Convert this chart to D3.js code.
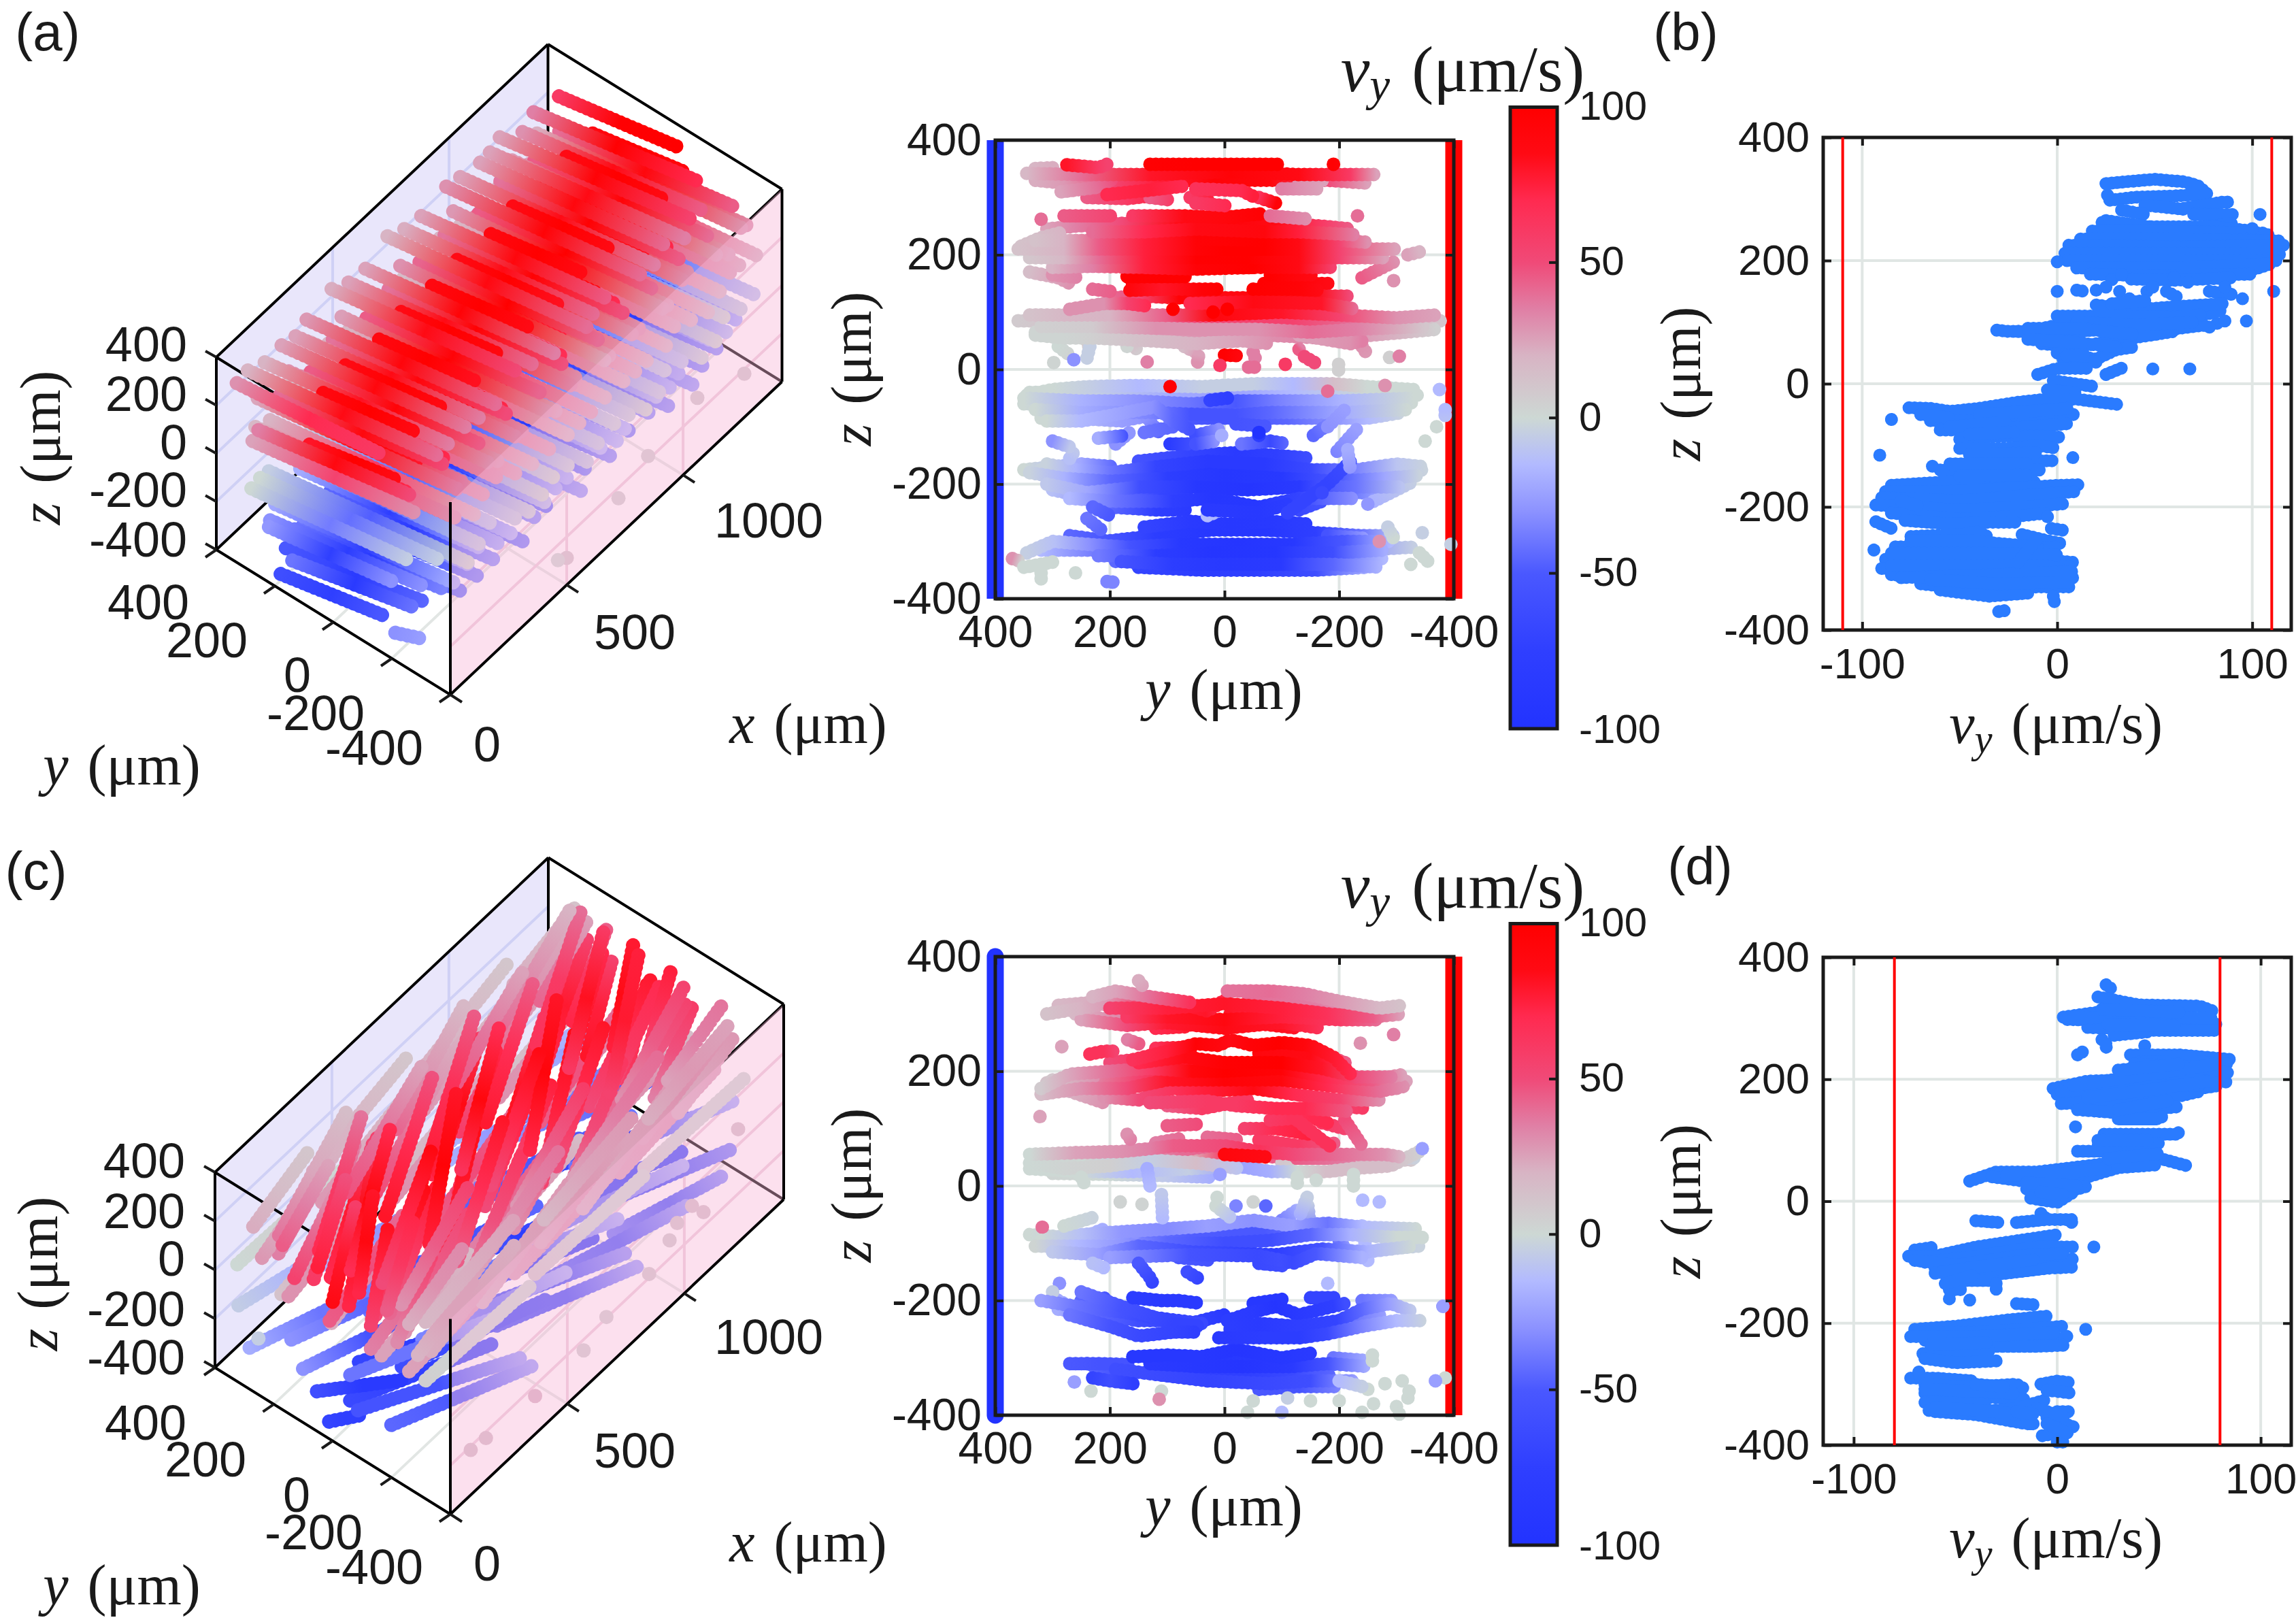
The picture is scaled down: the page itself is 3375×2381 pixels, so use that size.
<!DOCTYPE html>
<html lang="en">
<head>
<meta charset="UTF-8">
<title>Velocity profiles</title>
<script src="https://d3js.org/d3.v7.min.js"></script>
<style>
  html, body { margin: 0; background: #fff; }
  text { font-family: "Liberation Sans", Arial, sans-serif; fill: #1a1a1a; }
  .math { font-family: "Liberation Serif", serif; }
</style>
</head>
<body>
<svg id="fig" width="3375" height="2381"></svg>
<script>
// colour map
const vStops = [-100, -75, -50, -30, -15, 0, 20, 35, 50, 70, 85, 100];
const vColors = ["#2233ff", "#2f3fff", "#4a58ff", "#8c92ff", "#b2baff", "#cdd8d4", "#d8b4c4", "#e07fa5", "#f04a78", "#ff2a50", "#ff0a14", "#ff0000"];
const cbTicks = [-100, -50, 0, 50, 100];
const zTicks = [-400, -200, 0, 200, 400];
const yTicks = [400, 200, 0, -200, -400];
const xTicks3d = [0, 500, 1000];
const vTicks = [-100, 0, 100];

// y-z panel (a): each row is y, z, vy triples along a streak
const rowsAFill = [
  [290,-305,-18,210,-300,-50,120,-290,-80,20,-280,-92,-70,-280,-92,-160,-285,-75,-240,-290,-40,-300,-290,-10],
  [320,-315,-15,240,-315,-35,150,-315,-70,50,-315,-95,-50,-312,-95,-150,-312,-75,-240,-315,-30,-330,-310,-5],
  [190,-335,-45,100,-335,-75,10,-330,-90,-80,-332,-90,-180,-330,-50,-280,-330,-15],
  [150,-345,-70,40,-350,-80,-50,-350,-78,-160,-350,-60,-250,-345,-18],
  [350,-175,0,300,-170,-10,250,-165,-22,190,-170,-45],[150,-160,-55,60,-150,-70,-20,-145,-85,-90,-150,-75,-150,-155,-60],[300,-210,-12,230,-225,-30],
  [320,-175,-3,230,-190,-32,130,-185,-70,30,-175,-90,-80,-178,-88,-180,-185,-65,-260,-180,-28,-350,-175,-3],
  [300,-190,-10,210,-205,-35,110,-215,-70,0,-195,-92,-100,-198,-90,-190,-215,-55,-290,-215,-15],
  [200,-240,-45,120,-245,-75,60,-245,-85],[-130,-245,-65,-170,-230,-55],[-260,-230,-18,-330,-195,-5],
  [350,-60,0,270,-62,-10,170,-62,-28,90,-65,-35,0,-62,-50,-90,-62,-42,-200,-62,-20,-330,-58,0],
  [340,-40,0,220,-40,-5,100,-40,-20,0,-40,-25,-120,-40,-15,-250,-42,0,-340,-45,0],
  [320,-85,0,260,-85,-12,180,-90,-25,130,-80,-30],[70,-85,-50,-10,-85,-55,-110,-85,-45,-190,-85,-30,-250,-85,-15,-310,-75,-3],
  [135,-85,-30,110,-115,-45],[50,-115,-60,10,-105,-30],[-155,-115,-45,-195,-85,-30],[-230,-105,-25,-190,-150,-35],[190,-130,-30,160,-105,-28],
  [360,85,8,280,85,12,190,85,25,80,80,50,-20,85,55,-120,85,55,-220,85,40,-320,82,20,-380,85,10],
  [330,65,3,240,65,8,150,62,22,30,60,30,-70,60,30,-170,55,35,-260,60,25,-370,70,5],
  [290,40,0,270,25,3],[240,50,10,235,35,5],[160,45,15,150,30,8],[-50,30,35,-55,15,35],[-240,40,30,-250,25,28],[70,40,15,50,30,25],[-130,35,45,-135,40,35],
  [310,245,25,260,250,35,180,255,50,80,255,85,0,258,95,-90,255,85,-170,250,60,-220,245,45],[355,215,12,320,230,15,280,240,20],[340,170,15,290,160,25,270,150,30],
  [-180,150,85,-130,150,95,-60,150,100],[100,150,90,170,150,90],[-240,160,45,-300,190,30],[-320,200,25,-340,205,20],
  [200,125,40,150,128,50,80,125,95,20,125,85,-60,125,90,-160,128,85,-220,128,50],
  [330,330,22,280,325,28,200,325,50,120,328,75,20,330,95,-80,330,90,-180,330,50,-250,325,25],[240,300,45,170,298,60,110,305,75],[60,300,60,20,295,75],[-130,325,30,-175,330,25],[300,352,22,340,350,18],[-60,300,65,-90,290,95]
];
const rowsA = [
  [270,-290,-45,200,-300,-55],[-180,-290,-55,-250,-295,-25],
  [345,-320,-5,300,-300,-12,240,-305,-30,170,-310,-55,80,-305,-88,-20,-305,-95,-120,-305,-88,-210,-300,-50,-290,-300,-15],
  [220,-325,-38,120,-325,-80,20,-320,-95,-90,-320,-92,-190,-320,-60,-280,-315,-20],
  [180,-335,-55,90,-340,-80,0,-340,-88,-100,-340,-85,-190,-340,-45,-270,-345,-18],
  [140,-275,-70,60,-265,-85,-10,-270,-90,-80,-265,-88,-150,-270,-78],
  [240,-260,-40,215,-280,-45],[30,-255,-15,-5,-240,-20],
  [-285,-275,-5,-295,-295,0],[-270,-300,30],
  [370,-330,30,355,-335,5],[350,-345,0,320,-340,0,295,-335,0],[320,-355,0,320,-370,0],[260,-355,0],[205,-370,-35,185,-372,-35],
  [-340,-320,0,-360,-340,0],[-325,-340,0],[-395,-305,-5],[-345,-285,-5],
  [310,-165,-3,260,-175,-18,200,-180,-40,120,-170,-70,30,-160,-85,-70,-165,-85,-150,-175,-65,-230,-175,-35,-300,-165,-10,-350,-170,-3],
  [340,-180,-3,280,-190,-18,200,-195,-45,100,-190,-78,0,-185,-92,-100,-190,-88,-200,-195,-50,-280,-190,-22,-340,-185,-3],
  [310,-200,-8,240,-215,-22,150,-205,-60,50,-205,-90,-40,-210,-95,-130,-205,-85,-230,-205,-40,-310,-205,-10],
  [270,-225,-15,190,-230,-40,90,-230,-75,20,-225,-92,-60,-240,-90,-130,-225,-70,-230,-225,-30],
  [30,-245,-85,-60,-250,-88,-110,-235,-80],[230,-240,-45,200,-255,-50],[-250,-235,-28],
  [-110,-250,-70,-180,-200,-70,-220,-160,-60],[-170,-215,-65],
  [270,-155,-12,260,-140,-8],[95,-130,-80,60,-130,-60],[-30,-130,-40,-80,-125,-65,-110,-130,-45],
  [300,-125,-30,270,-135,-8],[220,-120,-20,170,-115,-55],[140,-110,-40,90,-100,-45],[50,-130,-55,15,-125,-30],[-60,-115,-80],
  [-215,-140,-20,-220,-180,-28],[-350,-125,0],[-370,-100,0],[-385,-70,-15,-385,-85,-12],[-375,-35,-15],
  [345,-45,0,300,-35,0,240,-30,-5,150,-28,-15,40,-30,-5,-50,-25,-5,-120,-25,-15,-190,-25,15,-250,-30,0,-330,-35,0],
  [350,-50,0,250,-55,-18,150,-55,-30,60,-60,-40,-20,-55,-50,-100,-55,-35,-200,-55,-18,-330,-50,0],
  [330,-70,0,250,-75,-20,130,-75,-35,60,-78,-55,-20,-80,-55,-80,-75,-45,-210,-75,-20,-320,-70,0],
  [310,-90,0,250,-90,-15,120,-65,-30,90,-90,-45,60,-105,-55],[-180,-100,-30,-210,-70,-25],[-20,-95,-55,-80,-100,-50],
  [-5,-50,-75,35,-55,-70],[5,-115,-20],[-60,-110,-100],
  [298,12,2],[263,17,-30],[170,40,2],[135,13,35],[47,13,30,45,25,25],[0,25,98,-25,24,90],[8,7,60],[-42,4,40,-60,4,40],[-106,9,60],[-157,12,50,-135,25,50],
  [-199,9,5,-199,-10,5],[-288,21,5],[-305,23,35],[-280,-28,30],[-180,-38,40],[95,-30,98],[240,20,-5,235,40,-5],
  [330,60,2,280,55,2,230,55,5,130,50,15,50,45,20,-30,50,25,-80,45,30],[-130,60,25,-220,45,30,-240,50,35],
  [320,75,5,230,75,8,120,72,30,50,70,30,-60,70,30,-150,65,40,-230,70,35,-350,75,10],
  [340,95,12,280,95,18,200,95,20,100,95,45,20,95,90,-100,100,80,-200,95,55,-300,90,30,-370,95,25],
  [270,105,30,210,115,30,170,115,55,130,110,70],[60,115,70,-50,118,85,-170,115,80,-230,105,40],[90,105,100],[-5,105,100],[20,100,100],
  [230,140,40,190,135,45],[165,138,90,110,140,80,40,140,95,5,140,100],[-50,140,100,-130,140,95,-170,138,85],
  [300,165,30,250,160,35],[170,162,98,60,162,100],[-80,165,100,-160,165,85],[-295,155,30],
  [300,178,20,230,180,35,140,178,75,50,175,95,-50,178,100,-130,178,85,-190,178,55],
  [340,195,10,280,195,18,220,195,40,140,195,75,50,195,98,-40,195,100,-130,195,85,-200,195,55,-280,195,25],
  [360,210,12,280,210,20,220,210,45,140,210,75,50,210,95,0,210,100,-70,210,100,-130,210,85,-200,210,55,-300,210,25],
  [330,225,12,280,225,20,220,225,45,140,228,75,50,228,95,-70,225,100,-130,225,85,-200,225,55,-250,222,30],
  [230,240,40,140,240,70,50,245,85,-70,240,90,-130,240,75,-230,235,35],
  [280,268,45,190,268,55],[160,268,60,70,268,85,5,265,90,-70,272,98],[-80,268,40,-150,262,30],[-232,268,40],[320,262,40],
  [50,290,60,-10,285,70],[130,300,45,90,295,60],
  [285,310,25,220,318,40,190,335,50],[205,305,70,130,313,75,70,320,70],[50,315,65,-30,312,70,-50,302,75],[-100,315,35,-170,315,25],
  [345,342,18,250,340,40,130,340,80,-10,345,95,-130,340,85,-220,340,60,-265,340,25],
  [275,357,80,220,352,60,205,358,55],[130,358,98,50,358,100,-20,358,100,-100,358,100],[-190,358,98,-200,358,95]
];

// y-z panel (c)
const rowsCFill = [
  [60,-330,-75,-40,-335,-75,-120,-330,-65,-190,-330,-45],[240,-310,-45,200,-325,-50,170,-335,-65],[100,-300,-85,0,-305,-90,-110,-310,-88],[-60,-355,-50,-130,-350,-55,-200,-350,-35],[-190,-300,-40,-250,-305,-20],
  [290,-215,-20,220,-225,-45,150,-235,-60,80,-235,-70],[250,-200,-45,200,-195,-55],[-50,-245,-85,-100,-255,-85,-160,-250,-70],[-50,-205,-90,-100,-198,-90],[60,-240,-70,0,-225,-85],[-150,-195,-70,-200,-195,-70],[-230,-230,-40,-280,-225,-25],[-240,-200,-40,-300,-200,-25],
  [340,-85,0,270,-90,-5,200,-95,-22,130,-90,-40,60,-90,-48,-10,-85,-50,-70,-80,-50,-140,-75,-40,-230,-85,-18,-330,-85,0],[300,-105,-3,230,-100,-22],[260,-95,-15,210,-75,-20],[-200,-95,-40,-220,-120,-20,-280,-110,-8,-340,-105,-3],[80,-125,-50,20,-130,-55],[-60,-135,-65,-110,-140,-60],[170,-115,-35,150,-95,-30],[-240,-70,-15,-250,-130,-15],[-100,-60,-35,-130,-40,-20],[-150,-75,-35,-145,-30,-5],
  [-60,80,60,-130,70,60,-200,75,45],[30,85,40,-30,80,45],[120,75,35,80,82,40],[330,50,0,280,48,10,220,50,25,150,50,25,80,55,40,-30,55,45,-120,48,45,-220,48,35,-330,45,8],[320,35,0,240,40,3,160,40,-5,70,40,5,0,50,60],[-240,40,20,-340,50,-3],[300,22,2,200,20,0,100,18,-8,20,15,-20],[250,35,0,240,20,0],[-100,40,10,-130,15,0],
  [-210,215,45,-170,230,75],[200,215,50,120,225,70,60,235,85],[120,240,65,60,242,85],[-60,232,90,-150,225,85,-200,205,70],[310,180,12,240,185,30,150,190,55,70,205,80,-20,205,95,-110,195,95,-200,180,55,-290,180,30],[300,185,10,220,190,30],[-230,165,40,-300,170,30,-320,185,25],[270,165,20,210,145,30],[100,140,45,40,135,60,-40,150,60],[-190,140,55,-250,135,60],[-170,110,60,-210,100,55],
  [290,315,18,230,320,22,170,310,35,100,300,70,30,295,80],[-10,300,80,-90,320,65,-170,310,45,-240,305,35],[-40,335,40,-170,325,35,-240,310,25],[260,300,18,200,290,30,150,305,35],[-60,305,80,-130,300,80],[30,280,75,-60,283,85,-130,275,80],[120,275,70,60,278,78]
];
const rowsC = [
  [270,-310,-50,220,-310,-55,160,-312,-55],
  [190,-320,-60,110,-330,-65,30,-340,-70,-80,-345,-65,-150,-340,-60,-230,-340,-25],
  [130,-310,-85,50,-315,-90,-30,-315,-95,-120,-315,-85,-180,-310,-55,-250,-315,-20],
  [160,-298,-90,100,-295,-90,40,-298,-90,-20,-285,-95,-100,-300,-90,-150,-292,-85],
  [230,-335,-70,200,-340,-60,160,-345,-75],[262,-342,-25],[233,-358,0],[110,-358,0],[114,-372,30],
  [-250,-355,0],[-280,-345,0],[-310,-340,0],[-320,-370,0],[-260,-380,0],[-200,-375,0],[-240,-395,0],[-300,-385,0],[-322,-358,0],[-50,-375,0],[-40,-395,0],[-110,-370,-5],[-150,-375,0],[-100,-395,-15],[-305,-398,0],[-385,-335,0],[-368,-340,-25],[-200,-340,-15,-240,-350,-5],[-258,-295,0,-258,-310,0],
  [300,-195,-25,270,-210,-15],[288,-170,-30],[300,-185,-5],
  [320,-200,-25,260,-210,-40,180,-220,-55,120,-230,-70,40,-240,-65],
  [250,-185,-40,180,-210,-55,90,-240,-70,40,-245,-70],
  [160,-195,-80,110,-200,-85,80,-200,-85,40,-205,-85],
  [270,-225,-40,200,-245,-55,150,-262,-65,90,-255,-70,50,-255,-75],
  [-5,-235,-80,-50,-220,-85,-90,-210,-95,-130,-225,-85,-190,-210,-75,-210,-205,-60],
  [-10,-250,-80,-60,-240,-85,-130,-245,-75,-200,-235,-70,-240,-215,-45,-290,-205,-25,-330,-220,-8],
  [10,-265,-85,-70,-265,-80,-130,-265,-80,-180,-258,-65,-240,-245,-35,-300,-235,-15,-350,-235,-3],
  [-381,-210,-25,-375,-218,-25],
  [318,-72,40],
  [320,-95,0,250,-85,-12,180,-80,-28,100,-75,-32,30,-70,-25,-50,-60,-30,-120,-70,-25,-180,-65,-40,-240,-72,-15,-340,-75,0],
  [330,-105,2,260,-105,-15,170,-105,-30,100,-100,-45,0,-100,-60,-80,-95,-60,-150,-85,-45,-220,-85,-18,-300,-90,0,-345,-90,0],
  [300,-115,-8,220,-120,-25,150,-105,-45,60,-115,-60,-20,-118,-70,-90,-120,-75,-170,-110,-55,-250,-115,-18,-330,-105,0],
  [200,-125,-25,60,-120,-55,-60,-122,-65,-100,-130,-60,-120,-135,-65,-160,-118,-50,-240,-125,-18],
  [150,-135,-50,130,-160,-65,125,-170,-70],[65,-150,-60,40,-165,-70],[230,-135,-12,205,-145,-15],[-180,-170,-15],
  [-241,-25,-15],[-270,-28,-15],[182,-28,3],[144,-32,3],[110,-15,-8,108,-60,-15],[13,-20,0],[-50,-28,3],[-20,-35,-35],[-72,-35,-45],[-144,-20,-5,-130,-55,-20],[15,-35,0,-10,-55,-10],
  [280,-70,0,230,-55,-3],
  [340,30,0,250,25,0,160,25,-15,60,30,-5,-20,35,-25,-80,25,-20,-130,25,0,-180,25,15,-220,30,15,-290,35,15,-340,60,5],
  [340,40,0,280,30,3,200,35,5,130,45,-5,50,40,15,-30,30,-10],
  [135,30,-20,130,0,-15],[8,20,-25],[-127,15,0,-127,0,0],[-160,10,0],[-225,20,0,-225,-5,0],[250,15,0,245,5,0],
  [340,55,0,260,58,25,180,60,30,130,65,35,90,70,45,0,70,50,-60,60,65,-120,55,50,-200,55,40,-280,55,30,-310,50,20],
  [170,90,30,160,75,35],[0,55,90,-80,50,85],[-345,65,-25],
  [100,105,45,40,108,50],[-35,100,55,-90,100,70,-150,90,75],[-80,115,60,-150,120,70,-180,110,70],[-120,120,65,-170,80,65,-190,65,65],[-210,115,50,-240,70,40],
  [322,121,25],[210,155,30,150,150,50,90,170,65,40,165,75,-50,170,85,-120,160,70,-200,150,55,-275,150,30],
  [130,145,50,30,148,60,-20,140,60,-90,135,70,-140,135,70,-220,130,45],
  [320,160,15,250,170,30,170,170,50,100,185,80,0,185,95,-100,185,90,-180,175,70,-270,165,40,-320,175,30],
  [320,170,8,270,195,25,200,200,40,130,205,60,60,200,90,0,200,100,-100,205,95,-180,190,70,-260,185,45,-315,195,25],
  [150,215,70,70,225,85,0,215,98,-100,215,100,-170,205,80,-230,190,50,-300,190,35],
  [235,230,65,210,235,65,190,235,55],[160,220,65,100,235,75,50,248,95,10,245,90,-10,255,85,-50,245,95,-100,250,100,-150,245,90,-190,225,80,-225,190,70],
  [284,243,25,280,235,25],[-237,249,30],[-295,264,35],[169,255,35,150,248,45],
  [250,290,25,170,280,50,100,285,78,0,275,85,-100,285,80,-170,275,65],
  [170,295,60,100,295,80,0,290,88,-100,295,75,-200,290,60,-270,290,40],
  [310,300,12,250,310,20,200,320,28,140,325,55,80,320,75,30,305,80,-10,330,65],
  [200,310,55,100,310,75,0,318,80,-100,310,75,-180,300,65,-260,295,45,-310,300,25],
  [230,330,20,190,340,25,130,330,40,60,320,65],
  [-5,340,38,-80,340,40,-140,335,35,-200,322,28,-270,310,18,-310,315,12],[150,358,22,140,345,25]
];

// vy-z panel (b): vy, z pairs along a streak
const rowsB = [
  [25,325,35,328,50,332,65,328,72,322,77,308,60,305,40,303,27,298,25,312],
  [45,290,60,285,66,283],[65,285,85,295,88,295],[33,282,45,275],[70,275,90,275],[25,265,40,258,60,250,90,260],
  [23,262,45,255,80,255,100,248],[18,248,50,248,105,245,110,240],[104,275],[100,252],
  [12,235,60,235,114,232],[6,225,60,222,116,225],[4,212,60,212,116,210],[5,200,60,200,114,200],[10,188,60,188,110,195,100,185],[17,178,50,175,100,178],[38,170,60,168,90,172],
  [0,198],[0,150],[10,152,14,150],[20,152],[32,150],[28,169],[33,177],[25,157],[37,138],[46,150],[49,157],[56,150,62,140],[60,173],[67,165],[78,150,90,145],[86,157],[95,138],[97,102,99,102],[82,98],[86,102],[111,150],
  [-31,87,-25,85,-15,85,0,95,25,105,50,100,80,115,85,120],[-20,85,0,80,25,90,50,85,75,95,80,90],[-8,65,10,60,30,70,50,80,60,85],[0,50,20,40,30,55,40,60],[20,128,40,120,60,125,85,130],[28,130,45,135],
  [3,40,20,35],[49,24],[68,24],[-10,15,0,25,15,25],[25,15,35,28],[-2,5,20,-5],[-5,-10,10,-15],
  [-76,-39,-65,-40,-55,-45,-40,-40,-20,-30,-5,-25,10,-25,32,-34],[-85,-58,-84,-62],[-65,-60,-45,-60,-20,-55,0,-50,10,-50],[-60,-75,-40,-75,-15,-70,5,-65],[-50,-90,-30,-85,-10,-85,3,-87],[-91,-116],
  [-50,-105,-25,-105,-10,-100,0,-105],[-45,-125,-20,-125,0,-125],[8,-120],[-60,-140,-30,-140,-8,-140],[-64,-134],
  [-85,-165,-60,-160,-30,-155,-10,-160],[-88,-175,-55,-175,-25,-170,0,-165,12,-164],[-90,-185,-50,-190,-10,-180,10,-175],[-93,-197,-50,-205,-15,-200,3,-195],[-85,-210,-50,-220,-20,-215,-5,-210],[-78,-222,-55,-228,-35,-225,-20,-225],[-5,-216],[-3,-235,3,-238],[-93,-224,-85,-235],
  [-75,-248,-50,-245,-40,-240,-35,-250],[-18,-245,-5,-255,3,-260],[-83,-265,-50,-265,-15,-268,0,-265],[-88,-285,-50,-285,-10,-285,8,-290],[-94,-270,-93,-278],
  [-90,-300,-50,-305,0,-300,8,-295],[-85,-310,-50,-320,-20,-318,10,-315],[-70,-325,-40,-335,-10,-330,8,-330],[-60,-335,-35,-345,-15,-340],[-30,-370,-26,-368],[-2,-345,-1,-362],
  [0,110,30,110,60,108,75,112],[10,100,40,95,70,100],[-15,90,10,90,40,80],[-15,72,5,68,30,60],[5,45,15,48],[-40,-50,-15,-45,5,-40],[-70,-50,-55,-55],[-55,-70,-25,-62],[-45,-82,-20,-78],[-45,-115,-10,-112],[-55,-130,-15,-130],[-50,-150,-15,-148],[-80,-190,-70,-200],[-75,-255,-45,-255,-10,-265],[-85,-275,-40,-275,0,-278],[-85,-295,-50,-295,-5,-295,5,-305],[-80,-315,-30,-310,8,-305],[-65,-318,-30,-325,8,-322],[-20,-290,-10,-250]
];

// vy-z panel (d)
const rowsD = [
  [24,355,28,345],[20,335,40,322,70,320,78,310],[3,302,20,310,50,305,78,295],[5,298,40,295,80,290],[15,285,50,280,78,280],[28,272,45,278],
  [22,265,25,255,22,247],[10,240,14,248],[43,255],
  [36,240,60,240,87,232],[40,228,65,230,85,225],[-2,185,15,197,40,200,80,205,83,195],[0,175,50,175,80,190],[2,160,50,165,70,180],[10,150,30,145,60,155],[30,135,50,135,52,140],[9,122],
  [23,110,40,110,60,110,59,115],[20,90,40,92,50,95],[10,82,30,82],[-43,33,-30,48,-10,48,20,60,45,75,65,57],[-32,40,-10,30,10,35,30,55,50,60],[-15,20,0,10,15,25],[-13,5,0,-2,8,15],
  [-8,-20,-5,-30],[-40,-32,-28,-35],[-20,-35,-5,-30,8,-30,6,-40],
  [-70,-80,-60,-75],[-73,-90,-60,-90,-40,-75,-20,-65,0,-55],[-65,-100,-40,-90,-10,-75,10,-75],[-60,-110,-30,-105,0,-95,10,-95],[-55,-120,-30,-120,-5,-110,8,-108],[-50,-130,-30,-130],[18,-75],[-30,-135,-30,-145],[-53,-145,-45,-145],[-53,-160],[-43,-162],[-20,-168,-10,-170],
  [-70,-210,-50,-205,-25,-195,-10,-190,-3,-188],[-68,-215,-40,-215,-15,-210,3,-205],[-65,-228,-40,-228,-15,-225,4,-225,5,-220],[-62,-240,-40,-238,-10,-238,5,-236],[-66,-250,-45,-250,-32,-245],[-65,-258,-50,-265,-30,-262],[14,-210],
  [-72,-290,-60,-290,-40,-295],[-68,-280,-67,-290],[-65,-300,-45,-305,-20,-300,-15,-310],[-65,-315,-40,-320,-15,-325],[-65,-330,-40,-345,-20,-340,-5,-325],[-63,-343],[-60,-345,-40,-350,-15,-365,-10,-365],[-8,-300,0,-295,8,-298],[-5,-310,8,-315],[0,-345,8,-345],[-5,-355,8,-370,0,-380,-8,-385],[0,-395,3,-395],
  [2,180,30,188,70,190],[15,170,50,185,80,200],[30,150,55,165],[38,225,70,220,85,210],[8,190,50,210,78,225],[30,215,60,225],[8,300,40,303,78,300],[22,315,60,310],[25,290,60,288],[-25,42,0,45,25,55],[-15,30,10,25],[-8,15,5,10],[25,70,50,78],[20,100,45,100],[-70,-97,-50,-105,-20,-90,5,-85],[-60,-118,-40,-108,-10,-95],[-55,-135,-40,-120],[-72,-222,-40,-222,0,-215],[-62,-235,-35,-232],[-60,-325,-35,-332],[-60,-338,-30,-345,-18,-350],[-65,-308,-40,-312,-20,-315],[-10,-340,5,-355],[-5,-365,5,-380],[-20,-345,-10,-350],[-40,-300,-25,-305]
];

// 3D panel (a): xStart, yStart, xEnd, yEnd, z, vy at start, middle, end
const tracksA = [
  [1250,240,1340,-250,-300,-35,-80,-30],[1130,280,1220,-270,-330,-30,-78,-25],[1010,250,1100,-280,-300,-40,-82,-30],[890,290,980,-230,-325,-25,-80,-35],[770,240,860,-270,-295,-35,-85,-30],[650,280,740,-260,-335,-30,-80,-25],
  [530,250,620,-240,-305,-40,-85,-40],[410,270,500,-260,-330,-30,-82,-35],[290,240,380,-250,-300,-45,-85,-30],[170,240,260,-230,-335,-40,-80,-40],[60,210,150,-200,-305,-50,-85,-45],[0,180,60,-120,-335,-60,-75,-50],[40,-180,70,-250,-345,-30,-28,-25],
  [1190,240,1280,-260,-315,-30,-80,-30],[950,270,1040,-250,-290,-35,-85,-30],[710,260,800,-240,-320,-30,-88,-35],[470,260,560,-250,-290,-35,-85,-30],[230,230,320,-240,-320,-45,-88,-35],[110,220,200,-220,-280,-40,-88,-35],[50,180,130,-180,-325,-40,-85,-40],
  [1290,260,1380,-290,-190,-20,-80,-20],[1170,290,1260,-300,-160,-15,-85,-18],[1050,300,1140,-280,-200,-18,-78,-22],[930,280,1020,-310,-170,-20,-85,-12],[810,310,900,-290,-205,-12,-82,-15],[690,280,780,-300,-165,-20,-85,-15],
  [570,300,660,-280,-195,-15,-80,-18],[450,280,540,-310,-170,-18,-82,-10],[330,300,420,-290,-205,-14,-85,-15],[210,280,300,-270,-165,-20,-78,-18],[90,270,180,-280,-195,-22,-80,-18],[0,220,60,-150,-170,-28,-75,-30],
  [1230,280,1320,-310,-175,-15,-82,-12],[990,300,1080,-300,-190,-15,-85,-18],[750,290,840,-310,-185,-18,-85,-15],[510,290,600,-300,-175,-15,-85,-18],[270,280,360,-290,-190,-20,-82,-20],[150,270,240,-270,-175,-22,-85,-22],[30,240,110,-220,-185,-30,-80,-30],
  [1300,300,1400,-330,-70,0,-45,-10],[1180,320,1270,-340,-45,-2,-40,0],[1060,300,1150,-350,-90,-3,-50,-2],[940,330,1030,-330,-55,0,-38,-5],[820,300,910,-360,-85,-5,-50,0],[700,330,790,-340,-45,0,-42,-3],
  [580,310,670,-350,-90,-3,-50,-5],[460,330,550,-330,-60,0,-40,0],[340,300,430,-340,-85,-5,-50,-3],[220,320,310,-300,-50,-2,-42,-8],[100,300,190,-320,-90,-5,-48,0],[0,280,70,-200,-55,0,-38,-5],
  [1240,310,1330,-340,-60,0,-42,-5],[1120,300,1210,-360,-75,-3,-45,0],[1000,320,1090,-340,-65,0,-42,-8],[880,320,970,-350,-70,-2,-48,-5],[760,310,850,-350,-60,0,-45,-3],[640,320,730,-340,-75,-3,-42,-5],[520,310,610,-330,-65,0,-48,-3],[400,320,490,-340,-70,-3,-42,0],[280,300,370,-330,-60,-5,-45,-5],[160,310,250,-310,-75,-3,-45,-5],[50,290,130,-260,-65,0,-42,-5],
  [1320,320,1410,-340,85,25,60,20],[1210,340,1300,-330,110,15,55,25],[1090,320,1180,-350,70,20,62,15],[970,340,1060,-330,105,18,58,22],[850,320,940,-340,75,22,65,18],[730,340,820,-350,110,15,55,20],
  [610,320,700,-330,80,20,62,25],[490,340,580,-340,105,18,60,18],[370,330,460,-320,75,22,65,20],[250,340,340,-300,110,15,58,30],[130,320,220,-320,80,20,60,20],[30,300,110,-200,100,25,55,30],
  [1260,330,1350,-330,90,18,60,22],[1150,310,1240,-340,95,22,58,18],[1030,330,1120,-340,85,15,62,20],[910,320,1000,-350,95,22,60,18],[790,330,880,-340,90,18,65,22],[670,320,760,-330,85,22,58,20],[550,330,640,-340,95,15,62,22],[430,320,520,-330,90,20,60,25],[310,340,400,-320,85,15,62,25],[190,320,280,-300,95,22,58,28],[80,330,170,-280,90,18,60,30],
  [1210,130,1260,-150,115,70,90,72],[970,140,1020,-150,105,68,90,70],[730,130,780,-160,115,72,92,68],[490,140,540,-150,105,70,90,72],[250,130,300,-150,115,68,92,70],[100,120,150,-140,105,72,88,70],
  [1330,290,1420,-300,170,20,85,30],[1220,300,1310,-310,165,25,95,25],[1100,310,1190,-280,170,22,90,30],[980,300,1070,-300,160,25,100,25],[860,320,950,-290,170,20,95,30],[740,290,830,-300,165,28,100,25],[620,310,710,-280,170,22,92,30],[500,300,590,-300,160,25,100,25],[380,320,470,-280,170,20,90,32],[260,290,350,-290,165,28,98,28],[140,300,230,-270,170,25,92,35],[30,280,110,-180,160,35,88,50],
  [1290,330,1380,-310,205,22,92,28],[1170,320,1260,-320,210,28,98,25],[1050,340,1140,-300,200,22,100,30],[930,330,1020,-320,210,28,100,25],[810,340,900,-310,205,20,98,28],[690,320,780,-320,210,30,100,22],[570,340,660,-300,200,22,100,32],[450,330,540,-310,210,26,98,28],[330,340,420,-290,205,20,95,32],[210,320,300,-300,210,30,92,30],[90,330,180,-280,200,24,90,35],
  [1310,270,1400,-250,240,40,90,45],[1190,260,1280,-270,235,45,95,40],[1070,280,1160,-260,245,38,98,45],[950,260,1040,-270,235,45,100,40],[830,280,920,-260,240,38,98,48],[710,270,800,-270,245,42,100,40],[590,280,680,-250,235,38,98,48],[470,260,560,-260,240,45,95,42],[350,280,440,-240,245,38,92,50],[230,260,320,-250,235,45,95,45],[110,270,200,-230,240,40,90,50],
  [1340,130,1385,-150,215,85,100,88],[1280,150,1330,-140,190,80,100,85],[1215,130,1265,-160,235,85,100,80],[1150,150,1200,-150,200,78,100,88],[1090,130,1140,-160,225,85,100,82],[1030,150,1080,-140,185,80,100,85],[965,120,1015,-170,240,88,100,78],[905,150,955,-150,205,78,100,88],[845,130,895,-160,220,85,100,80],[780,140,830,-150,190,82,100,85],[720,120,770,-170,235,88,100,75],[660,150,710,-140,200,78,100,88],[600,130,650,-160,225,85,100,80],[540,150,590,-150,185,80,100,85],[480,130,530,-170,240,85,100,78],[420,150,470,-140,205,78,100,88],[360,130,410,-150,220,85,100,82],[300,140,350,-160,190,82,100,85],[240,120,290,-150,235,88,100,80],[180,150,230,-130,200,78,100,88],[120,120,170,-150,225,85,100,80],[60,130,110,-120,185,80,100,85],
  [1340,295,1405,-70,340,60,98,100],[1250,310,1340,-180,345,35,98,70],[1130,330,1230,-240,335,25,95,55],[1020,310,1110,-260,345,25,90,40],[900,330,990,-270,340,30,95,40],[780,320,870,-250,335,25,90,45],[660,340,750,-270,345,20,88,40],[540,320,630,-260,335,25,95,35],[420,340,510,-230,345,22,85,50],[300,330,390,-250,335,28,92,40],[180,320,270,-250,345,25,90,35],[60,340,150,-240,335,20,85,40],[0,330,50,-120,345,30,70,60],
  [1190,300,1280,-240,325,30,85,45],[1075,320,1170,-270,330,25,85,35],[960,330,1050,-270,325,25,85,35],[720,330,810,-260,328,22,85,40],[480,330,570,-240,325,25,85,40],[240,320,330,-250,328,25,85,35],[120,330,210,-240,322,20,82,35],
  [1290,140,1340,-130,348,88,100,90],[1190,150,1240,-150,335,85,100,85],[1080,130,1130,-160,345,88,100,82],[960,150,1010,-150,338,85,100,85],[840,130,890,-150,348,88,100,85],[720,150,770,-160,335,85,100,82],[600,140,650,-150,345,88,100,85],[480,150,530,-140,338,85,100,88],[360,130,410,-160,348,88,100,82],[240,150,290,-150,335,85,100,85],[120,130,170,-150,345,88,100,85]
];
// single dots: x, y, z, vy
const strayA = [[1326,-350,-314,8],[1124,-350,-230,8],[563,-350,-383,10],[900,-360,-260,5],[760,-370,-300,5],[500,-370,-320,0]];

// 3D panel (c)
const tracksC = [
  [1000,170,1350,60,-335,-30,-50,-40],[1000,10,1350,-130,-330,-60,-70,-60],[1000,-160,1350,-260,-335,-40,-50,-30],[550,190,950,60,-340,-30,-55,-45],[550,30,950,-130,-330,-60,-72,-65],[550,-120,950,-280,-335,-50,-55,-25],[100,180,500,50,-330,-30,-55,-50],[100,20,500,-150,-340,-65,-75,-60],[100,-120,500,-280,-335,-45,-50,-25],[10,20,80,-30,-345,-70,-75,-75],
  [700,190,1150,70,-250,-30,-50,-50],[700,0,1150,-170,-230,-60,-72,-65],[700,-170,1150,-300,-245,-45,-50,-25],[220,200,650,80,-230,-30,-50,-50],[220,-60,650,-210,-250,-60,-65,-55],[1150,190,1400,110,-230,-25,-40,-40],
  [950,270,1380,150,-240,-20,-40,-35],[950,80,1380,-110,-235,-60,-75,-75],[950,-100,1380,-270,-245,-50,-60,-35],[480,280,900,140,-235,-20,-40,-35],[480,100,900,-90,-240,-60,-78,-75],[480,-90,900,-280,-235,-55,-60,-30],[10,290,440,150,-245,-20,-40,-35],[2,55,187,-103,-240,-60,-85,-85],[150,30,440,-130,-235,-70,-80,-75],[20,-70,440,-290,-240,-55,-55,-25],
  [950,300,1400,210,-90,-8,-18,-18],[950,120,1400,-30,-95,-30,-50,-45],[950,-70,1400,-250,-85,-40,-45,-20],[450,320,900,230,-95,-5,-15,-20],[450,130,900,-10,-85,-28,-48,-50],[450,-70,900,-270,-95,-38,-42,-18],[0,320,420,230,-85,-6,-18,-20],[0,140,420,-10,-90,-30,-45,-50],[0,-60,420,-240,-85,-40,-40,-20],
  [700,230,1150,130,-105,-15,-28,-32],[700,50,1150,-80,-80,-40,-58,-58],[700,-130,1150,-280,-100,-35,-38,-18],[220,240,650,140,-80,-15,-28,-30],[220,50,650,-80,-105,-40,-55,-60],[220,-130,650,-280,-85,-35,-40,-18],[1100,230,1400,160,-80,-15,-25,-28],[1100,50,1400,-50,-105,-38,-55,-55],
  [980,330,1410,310,40,0,0,5],[980,190,1410,230,55,10,20,25],[980,40,1410,90,45,20,35,30],[980,-120,1410,-90,55,25,30,15],[980,-280,1410,-290,40,5,0,0],[500,340,950,320,45,0,5,0],[500,200,950,240,50,12,20,25],[500,30,950,90,55,25,35,30],[500,-130,950,-90,45,25,30,15],[500,-290,950,-300,50,8,0,0],[20,340,460,330,50,0,5,0],[20,190,460,240,40,12,22,25],[20,20,460,90,50,22,35,30],[20,-150,460,-110,45,25,25,15],[20,-300,460,-310,55,5,0,0],
  [900,-260,1350,-230,80,25,28,25],[900,-130,1350,-60,75,35,42,45],[900,10,1350,90,85,45,48,40],[900,150,1350,200,80,30,28,22],[450,-260,900,-240,75,25,28,25],[450,-130,900,-60,85,35,42,45],[450,10,900,90,80,45,50,40],[450,150,900,200,75,30,28,22],[0,-260,420,-240,80,25,28,25],[0,-130,420,-60,75,35,42,45],[0,10,420,90,85,45,50,40],[0,150,420,200,80,30,28,20],
  [1100,-300,1400,-250,175,22,25,28],[680,-310,1150,-230,170,20,25,28],[250,-310,720,-230,175,20,25,28],[0,-290,300,-240,170,20,25,25],
  [1100,-220,1410,-100,175,35,48,58],[680,-250,1150,-70,170,32,50,62],[250,-250,720,-70,175,32,48,62],[0,-220,300,-100,170,32,45,55],
  [1100,-120,1410,50,175,58,72,80],[680,-170,1150,90,170,55,75,85],[250,-170,720,90,175,55,78,85],[0,-130,300,50,170,55,72,82],
  [1100,10,1410,170,175,80,75,55],[680,-30,1150,190,170,85,80,55],[250,-30,720,190,175,85,82,55],[0,0,300,160,170,85,78,58],
  [1100,130,1410,230,175,55,42,28],[680,110,1150,250,170,58,45,28],[250,110,720,250,175,60,45,28],[0,130,300,230,170,55,42,28],
  [1100,230,1410,280,175,28,20,12],[680,230,1150,300,170,28,22,12],[250,235,720,300,175,28,22,12],[0,240,300,300,170,28,20,12],
  [960,-290,1360,-230,190,25,30,28],[960,-200,1400,-90,200,32,45,55],[960,-110,1410,40,185,50,68,78],[960,-20,1410,200,195,65,80,70],[960,80,1400,290,190,70,70,45],[960,190,1400,300,200,40,30,22],[500,-310,930,-250,195,22,28,25],[500,-220,940,-90,185,30,45,55],[500,-120,950,60,200,50,70,80],[500,-30,950,200,190,62,88,72],[500,60,950,290,195,72,72,48],[500,180,950,310,185,45,30,20],[20,-320,450,-260,190,22,25,22],[20,-230,460,-100,200,30,45,52],[3,-53,520,261,190,72,92,55],[20,-130,460,50,195,52,75,85],[20,80,460,290,185,60,50,35],[20,200,450,320,200,35,25,18],
  [950,-160,1390,-10,225,45,62,70],[950,40,1390,240,220,70,78,55],[500,-170,940,0,225,42,60,75],[500,40,950,250,220,75,85,60],[30,-170,460,10,225,42,62,78],[30,30,480,240,220,70,78,50],
  [1100,-265,1410,-210,280,25,35,38],[680,-280,1150,-190,275,25,35,40],[250,-285,720,-195,280,25,32,38],[0,-260,300,-205,275,22,30,32],
  [1100,-185,1410,-30,280,50,65,75],[680,-220,1150,-10,275,48,70,80],[250,-225,720,-10,280,45,68,80],[0,-185,300,-40,275,45,62,72],
  [1100,-80,1410,100,280,75,85,78],[680,-130,1150,150,275,72,92,80],[250,-130,720,150,280,75,95,80],[0,-90,300,100,275,72,88,80],
  [1100,60,1410,190,280,72,62,45],[680,20,1150,230,275,78,68,45],[250,20,720,230,280,80,70,48],[0,50,300,190,275,75,65,48],
  [1100,170,1410,250,280,42,35,25],[680,150,1150,270,275,48,38,25],[250,150,720,270,280,48,38,25],[0,170,300,250,275,45,35,25],
  [1100,260,1410,300,280,22,18,12],[680,260,1150,320,275,22,18,10],[250,265,720,320,280,22,18,10],[0,270,300,320,275,22,15,10],
  [960,-310,1360,-270,285,22,28,25],[960,-220,1380,-100,295,30,45,55],[957,-182,1391,64,300,55,78,75],[960,-40,1400,190,290,62,82,60],[960,70,1400,270,300,65,60,40],[960,190,1390,300,290,40,30,20],[500,-320,930,-280,295,18,25,28],[500,-230,940,-110,285,28,45,58],[500,-140,950,50,300,50,72,85],[500,-40,950,190,290,65,90,68],[500,60,950,270,295,75,65,45],[500,180,950,310,290,42,28,18],[20,-300,450,-260,295,18,22,25],[30,-210,470,-90,290,30,45,55],[50,-130,500,60,300,50,72,88],[40,-30,500,200,285,68,90,70],[30,70,480,280,300,70,58,38],[10,190,460,320,290,38,24,15]
];
const strayC = [[730,-350,-290,5],[900,-360,-260,8],[1000,-350,-220,8],[620,-360,-320,5],[1293,-350,-30,12],[1096,-350,-166,12],[1145,-350,-236,12],[1020,-360,-160,10],[150,-350,-310,15],[215,-350,-320,15],[60,300,-260,-5],[400,-370,-300,20]];

const svg = d3.select("#fig");
const defs = svg.append("defs");
const ink = "#1a1a1a";
const vColor = d3.scaleLinear().domain(vStops).range(vColors).interpolate(d3.interpolateRgb);
const lineGen = d3.line();
const layerEdges = [-270, -130, 0, 130, 260];
let gradId = 0;

function plainText(g, x, y, s, size, anchor) {
  return g.append("text").attr("x", x).attr("y", y + size * 0.36)
    .attr("font-size", size).attr("text-anchor", anchor || "middle").text(s);
}

// label such as "y (μm)": italic symbol, optional subscript, upright unit
function mathLabel(x, y, sym, sub, unit, rotate, size) {
  const fs = size || 84;
  const t = svg.append("text").attr("class", "math").attr("font-size", fs)
    .attr("text-anchor", "middle")
    .attr("transform", `translate(${x},${y})` + (rotate ? " rotate(-90)" : ""))
    .attr("dy", 24);
  t.append("tspan").attr("font-style", "italic").attr("class", "math").text(sym);
  if (sub) t.append("tspan").attr("font-style", "italic").attr("font-size", fs * 0.7).attr("dy", 14).text(sub);
  t.append("tspan").attr("dx", fs / 3).attr("dy", sub ? -14 : 0).text(unit);
}

// thick dotted streak through the projected vertices, colour fading along it
function streak(g, pts, dia, color) {
  if (pts.length === 1) {
    g.append("circle").attr("cx", pts[0][0]).attr("cy", pts[0][1]).attr("r", dia / 2)
      .attr("fill", color || vColor(pts[0][2]));
    return;
  }
  let stroke = color;
  if (!color) {
    const lens = [0];
    for (let i = 1; i < pts.length; i++) lens.push(lens[i - 1] + Math.hypot(pts[i][0] - pts[i - 1][0], pts[i][1] - pts[i - 1][1]));
    const total = lens[lens.length - 1] || 1;
    const id = "g" + (gradId++);
    const a = pts[0], b = pts[pts.length - 1];
    const grad = defs.append("linearGradient").attr("id", id).attr("gradientUnits", "userSpaceOnUse")
      .attr("x1", a[0]).attr("y1", a[1]).attr("x2", b[0] + 0.01).attr("y2", b[1] + 0.01);
    pts.forEach((p, i) => grad.append("stop").attr("offset", lens[i] / total).attr("stop-color", vColor(p[2])));
    stroke = `url(#${id})`;
  }
  g.append("path").attr("d", lineGen(pts.map(p => [p[0], p[1]])))
    .attr("fill", "none").attr("stroke", stroke).attr("stroke-width", dia)
    .attr("stroke-linecap", "round").attr("stroke-linejoin", "round")
    .attr("stroke-dasharray", `0.1 ${dia * 0.42}`);
}

function styleAxis(g, size) {
  g.selectAll(".domain").remove();
  g.selectAll(".tick line").attr("stroke", ink).attr("stroke-width", 4);
  g.selectAll(".tick text").attr("font-size", size).attr("font-family", '"Liberation Sans", Arial, sans-serif').attr("fill", ink);
}

function frame2d(box, xScale, xVals, yScale) {
  const g = svg.append("g");
  g.append("g").selectAll("line").data(xVals.filter(v => Math.abs(v) < 400)).join("line")
    .attr("x1", d => xScale(d)).attr("x2", d => xScale(d)).attr("y1", box.top).attr("y2", box.bottom)
    .attr("stroke", "#e0e6e4").attr("stroke-width", 4);
  g.append("g").selectAll("line").data([-200, 0, 200]).join("line")
    .attr("x1", box.left).attr("x2", box.right).attr("y1", d => yScale(d)).attr("y2", d => yScale(d))
    .attr("stroke", "#e0e6e4").attr("stroke-width", 4);
  return g;
}

function box2d(box, xScale, xVals, yScale, size, xLabelDy) {
  const b = svg.append("g");
  const bot = b.append("g").attr("transform", `translate(0,${box.bottom})`)
    .call(d3.axisBottom(xScale).tickValues(xVals).tickSizeInner(-12).tickSizeOuter(0).tickPadding(xLabelDy).tickFormat(d => String(d)));
  styleAxis(bot, size);
  const top = b.append("g").attr("transform", `translate(0,${box.top})`)
    .call(d3.axisTop(xScale).tickValues(xVals).tickSizeInner(-12).tickSizeOuter(0).tickFormat(""));
  styleAxis(top, size);
  const lft = b.append("g").attr("transform", `translate(${box.left},0)`)
    .call(d3.axisLeft(yScale).tickValues(zTicks).tickSizeInner(-12).tickSizeOuter(0).tickPadding(20).tickFormat(d => String(d)));
  styleAxis(lft, size);
  const rgt = b.append("g").attr("transform", `translate(${box.right},0)`)
    .call(d3.axisRight(yScale).tickValues(zTicks).tickSizeInner(-12).tickSizeOuter(0).tickFormat(""));
  styleAxis(rgt, size);
  b.append("rect").attr("x", box.left).attr("y", box.top).attr("width", box.right - box.left).attr("height", box.bottom - box.top)
    .attr("fill", "none").attr("stroke", ink).attr("stroke-width", 5);
}

// middle panel with the side walls and the colour bar
function midPanel(dy, rows, roundBlue) {
  const box = { left: 1463, right: 2137, top: 206 + dy, bottom: 880 + dy };
  const yScale = d3.scaleLinear().domain([400, -400]).range([box.left, box.right]);
  const zScale = d3.scaleLinear().domain([-400, 400]).range([box.bottom, box.top]);
  const g = frame2d(box, yScale, yTicks, zScale);
  g.append("line").attr("x1", yScale(400)).attr("x2", yScale(400)).attr("y1", zScale(400)).attr("y2", zScale(-400))
    .attr("stroke", "#2233ff").attr("stroke-width", 25).attr("stroke-linecap", roundBlue ? "round" : "butt");
  g.append("line").attr("x1", yScale(-400)).attr("x2", yScale(-400)).attr("y1", zScale(400)).attr("y2", zScale(-400))
    .attr("stroke", "#ff0000").attr("stroke-width", 25);
  const pts = g.append("g");
  rows.forEach(r => {
    const p = [];
    for (let i = 0; i < r.length; i += 3) p.push([yScale(r[i]), zScale(r[i + 1]), r[i + 2]]);
    streak(pts, p, 20);
  });
  box2d(box, yScale, yTicks, zScale, 66, 24);
  mathLabel(1799, 1018 + dy, "y", "", "(μm)");
  mathLabel(1256, 542 + dy, "z", "", "(μm)", true);

  // colour bar
  const cb = { x0: 2220, x1: 2289, top: 157.5 + dy, bottom: 1071 + dy };
  const cScale = d3.scaleLinear().domain([-100, 100]).range([cb.bottom, cb.top]);
  const id = "cb" + dy;
  const grad = defs.append("linearGradient").attr("id", id).attr("x1", 0).attr("x2", 0).attr("y1", 1).attr("y2", 0);
  vStops.forEach(v => grad.append("stop").attr("offset", (v + 100) / 200).attr("stop-color", vColor(v)));
  const c = svg.append("g");
  c.append("rect").attr("x", cb.x0).attr("y", cb.top).attr("width", cb.x1 - cb.x0).attr("height", cb.bottom - cb.top)
    .attr("fill", `url(#${id})`).attr("stroke", ink).attr("stroke-width", 5);
  c.selectAll("line").data([-50, 0, 50]).join("line")
    .attr("x1", cb.x1 - 12).attr("x2", cb.x1).attr("y1", d => cScale(d)).attr("y2", d => cScale(d))
    .attr("stroke", ink).attr("stroke-width", 4);
  cbTicks.forEach(v => plainText(c, 2321, cScale(v) - 3 + (v === -100 ? 2 : 0), String(v), 60, "start"));
  mathLabel(2150, 110 + dy, "v", "y", "(μm/s)", false, 96);
}

// solid blue velocity panel
function vPanel(box, vLim, vLine, rows, labelY, xTextDy) {
  const vScale = d3.scaleLinear().domain([-vLim, vLim]).range([box.left, box.right]);
  const zScale = d3.scaleLinear().domain([-400, 400]).range([box.bottom, box.top]);
  const g = frame2d(box, vScale, vTicks, zScale);
  const pts = g.append("g");
  rows.forEach(r => {
    const p = [];
    for (let i = 0; i < r.length; i += 2) p.push([vScale(r[i]), zScale(r[i + 1]), 0]);
    streak(pts, p, 19, "#2a7bff");
  });
  box2d(box, vScale, vTicks, zScale, 63, xTextDy);
  svg.append("g").selectAll("line").data([-vLine, vLine]).join("line")
    .attr("x1", d => vScale(d)).attr("x2", d => vScale(d)).attr("y1", box.top).attr("y2", box.bottom)
    .attr("stroke", "#ff0000").attr("stroke-width", 4);
  mathLabel(3022, labelY, "v", "y", "(μm/s)");
  mathLabel(2475, zScale(0), "z", "", "(μm)", true);
}

// oblique box: fractions along each data axis are turned into page offsets
function panel3d(c) {
  const fx = d3.scaleLinear().domain([0, 1425]).range([0, 1]);
  const fy = d3.scaleLinear().domain([-400, 400]).range([0, 1]);
  const fz = d3.scaleLinear().domain([-400, 400]).range([0, 1]);
  const P = (x, y, z) => [
    c.origin[0] + fx(x) * c.xv[0] + fy(y) * c.yv[0],
    c.origin[1] + fx(x) * c.xv[1] + fy(y) * c.yv[1] + fz(z) * c.zv
  ];
  const X = 1425;
  const g = svg.append("g");
  const seg = (a, b, col, w) => g.append("path").attr("d", lineGen([a, b])).attr("stroke", col).attr("stroke-width", w).attr("fill", "none");
  // back wall and floor grid
  g.append("path").attr("d", lineGen([P(0,400,-400),P(X,400,-400),P(X,400,400),P(0,400,400)]) + "Z").attr("fill", "#e9e6fb");
  [500, 1000].forEach(v => {
    seg(P(v,400,-400), P(v,400,400), "#cfd0f5", 4);
    seg(P(v,400,-400), P(v,-400,-400), "#e2e6e4", 4);
    seg(P(v,-400,400), P(v,-400,-400), "#eccfdc", 4);
  });
  [-200, 0, 200].forEach(v => {
    seg(P(0,400,v), P(X,400,v), "#cfd0f5", 4);
    seg(P(0,v,-400), P(X,v,-400), "#e2e6e4", 4);
    seg(P(0,-400,v), P(X,-400,v), "#eccfdc", 4);
  });
  // edges that the cloud hides
  [[P(0,400,400),P(X,400,400)],[P(X,400,400),P(X,-400,400)],[P(0,400,400),P(0,-400,400)],[P(0,-400,400),P(X,-400,400)],
   [P(X,400,400),P(X,400,-400)],[P(X,400,-400),P(X,-400,-400)],[P(0,400,-400),P(X,400,-400)]].forEach(e => seg(e[0], e[1], "#000", 4));
  const pts = g.append("g");
  // bottom layers first, far rows before near ones
  const ordered = c.tracks.slice().sort((p, q) =>
    d3.ascending(d3.bisect(layerEdges, p[4]), d3.bisect(layerEdges, q[4])) || d3.descending(p[0], q[0]));
  ordered.forEach(t => {
    const a = P(t[0], t[1], t[4]), b = P(t[2], t[3], t[4]);
    const m = P((t[0] + t[2]) / 2, (t[1] + t[3]) / 2, t[4]);
    streak(pts, [[a[0],a[1],t[5]],[m[0],m[1],t[6]],[b[0],b[1],t[7]]], 21);
  });
  c.stray.forEach(s => { const a = P(s[0], s[1], s[2]); streak(pts, [[a[0],a[1],s[3]]], 21); });
  // translucent front wall over the points
  g.append("path").attr("d", lineGen([P(0,-400,-400),P(X,-400,-400),P(X,-400,400),P(0,-400,400)]) + "Z")
    .attr("fill", "#f9b4d7").attr("fill-opacity", 0.42);
  // edges on top
  [[P(0,400,400),P(0,400,-400)],[P(0,400,-400),P(0,-400,-400)],[P(0,-400,-400),P(X,-400,-400)],
   [P(X,-400,-400),P(X,-400,400)],[P(0,-400,-400),P(0,-400,400)]].forEach(e => seg(e[0], e[1], "#000", 4));
  // ticks
  zTicks.forEach(z => { const a = P(0,400,z); seg(a, [a[0]-16, a[1]-9], ink, 4); });
  yTicks.forEach(y => { const a = P(0,y,-400); seg(a, [a[0]-16, a[1]+11], ink, 4); });
  xTicks3d.forEach(x => { const a = P(x,-400,-400); seg(a, [a[0]+17, a[1]+11], ink, 4); });
  // tick labels
  zTicks.forEach((z, i) => plainText(g, c.zEnd, c.zY[i], String(z), 72, "end"));
  yTicks.forEach((y, i) => plainText(g, c.yPos[i][0], c.yPos[i][1], String(y), 72));
  xTicks3d.forEach((x, i) => plainText(g, c.xPos[i][0], c.xPos[i][1], String(x), 72));
  mathLabel(c.yLab[0], c.yLab[1], "y", "", "(μm)");
  mathLabel(c.xLab[0], c.xLab[1], "x", "", "(μm)");
  mathLabel(c.zLab[0], c.zLab[1], "z", "", "(μm)", true);
}

panel3d({ origin: [662, 1021], xv: [487.5, -460], yv: [-344, -213], zv: -283, tracks: tracksA, stray: strayA,
  zEnd: 275, zY: [792, 719, 649, 578, 505],
  yPos: [[218,884],[304,940],[437,991],[464,1047],[550,1098]], xPos: [[716,1093],[933,928],[1130,764]],
  yLab: [179,1129], xLab: [1188,1068], zLab: [64,658] });
panel3d({ origin: [662, 2225.5], xv: [490, -462.5], yv: [-346, -215.5], zv: -287, tracks: tracksC, stray: strayC,
  zEnd: 272, zY: [1994, 1923, 1849, 1779, 1705],
  yPos: [[214,2090],[302,2144],[436,2196],[461,2251],[550,2302]], xPos: [[716,2297],[933,2131],[1130,1964]],
  yLab: [179,2334], xLab: [1188,2271], zLab: [60,1872] });

midPanel(0, rowsAFill.concat(rowsA), false);
midPanel(1200, rowsCFill.concat(rowsC), true);
vPanel({ left: 2680, right: 3368, top: 202, bottom: 926 }, 120, 110, rowsB, 1068, 26);
vPanel({ left: 2680, right: 3368, top: 1407, bottom: 2124 }, 115, 80, rowsD, 2265, 26);

[["(a)",70,46],["(c)",53,1279],["(b)",2478,46],["(d)",2499,1272]].forEach(d => plainText(svg, d[1], d[2], d[0], 78));
</script>
</body>
</html>
